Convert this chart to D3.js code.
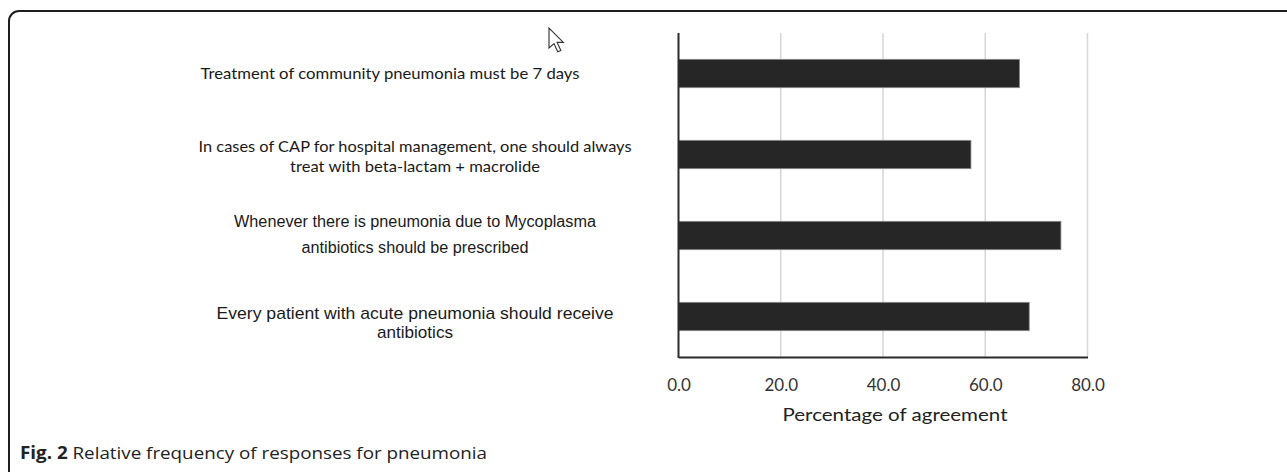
<!DOCTYPE html>
<html>
<head>
  <meta charset="utf-8">
  <script src="https://cdn.jsdelivr.net/npm/d3@7"></script>
  <style>
    body { margin: 0; background: #fff; }
    svg { display: block; }
  </style>
</head>
<body>
  <div id="chart"></div>
  <script>
    // statements (top to bottom) and agreement percentages
    const statements = [
      ["Treatment of community pneumonia must be 7 days"],
      ["In cases of CAP for hospital management, one should always", "treat with beta-lactam + macrolide"],
      ["Whenever there is pneumonia due to Mycoplasma", "antibiotics should be prescribed"],
      ["Every patient with acute pneumonia should receive", "antibiotics"]
    ];
    const agreement = [66.7, 57.2, 74.8, 68.6];
    const xTicks = [0, 20, 40, 60, 80];
    const xTitle = "Percentage of agreement";
    const captionBold = "Fig. 2";
    const captionText = " Relative frequency of responses for pneumonia";

    // label look, one entry per statement (font, line offsets, widths)
    const labelStyle = [
      { font: "Lato", size: 16, cx: 390, dy: [1], w: [379] },
      { font: "Lato", size: 16, cx: 415, dy: [-7, 13], w: [433, 250] },
      { font: "Liberation Sans Narrow", size: 16, cx: 415, dy: [-13, 13], w: [362, 227] },
      { font: "Liberation Sans Narrow", size: 17, cx: 415, dy: [-2, 17], w: [397, 76] }
    ];

    const W = 1287, H = 472;
    const svg = d3.select("#chart").append("svg")
      .attr("width", W).attr("height", H);

    // frame (rounded box running off the right and bottom edges)
    svg.append("rect")
      .attr("x", 9).attr("y", 11)
      .attr("width", 1300).attr("height", 520)
      .attr("rx", 10).attr("ry", 10)
      .attr("fill", "none")
      .attr("stroke", "#1e1e1e")
      .attr("stroke-width", 2);

    const x = d3.scaleLinear().domain([0, 80]).range([678.5, 1087.5]);
    const y = d3.scaleBand()
      .domain(d3.range(statements.length))
      .range([33, 357])
      .paddingInner(0.65)
      .paddingOuter(0.325);

    // gridlines
    svg.append("g")
      .selectAll("line")
      .data(xTicks.slice(1))
      .join("line")
      .attr("x1", d => x(d)).attr("x2", d => x(d))
      .attr("y1", 33).attr("y2", 357)
      .attr("stroke", "#d6d6d6")
      .attr("stroke-width", 1.5);

    // bars
    svg.append("g")
      .selectAll("rect")
      .data(agreement)
      .join("rect")
      .attr("x", x(0))
      .attr("y", (d, i) => y(i))
      .attr("width", d => x(d) - x(0))
      .attr("height", y.bandwidth())
      .attr("fill", "#262626")
      .attr("stroke", "#8a8a8a")
      .attr("stroke-width", 0.8);

    // x axis
    const xAxis = svg.append("g")
      .attr("transform", "translate(0,357)")
      .call(d3.axisBottom(x).tickValues(xTicks).tickSize(0).tickPadding(22)
        .tickFormat(d3.format(".1f")));
    xAxis.select(".domain").attr("stroke", "#2b2b2b").attr("stroke-width", 2);
    xAxis.selectAll("text")
      .attr("font-family", "Lato, 'Open Sans', sans-serif")
      .attr("font-size", 17)
      .attr("fill", "#333");

    // left axis line
    svg.append("line")
      .attr("x1", x(0)).attr("x2", x(0))
      .attr("y1", 33).attr("y2", 358)
      .attr("stroke", "#2b2b2b")
      .attr("stroke-width", 2);

    svg.append("text")
      .attr("x", 895).attr("y", 421)
      .attr("text-anchor", "middle")
      .attr("font-family", "Lato, 'Open Sans', sans-serif")
      .attr("font-size", 18)
      .attr("fill", "#222")
      .attr("textLength", 225)
      .attr("lengthAdjust", "spacingAndGlyphs")
      .text(xTitle);

    // statement labels
    statements.forEach((lines, i) => {
      const s = labelStyle[i];
      const cy = y(i) + y.bandwidth() / 2;
      lines.forEach((line, j) => {
        svg.append("text")
          .attr("x", s.cx)
          .attr("y", cy + s.dy[j])
          .attr("dominant-baseline", "middle")
          .attr("text-anchor", "middle")
          .attr("font-family", s.font + ", sans-serif")
          .attr("font-size", s.size)
          .attr("fill", "#1a1a1a")
          .attr("textLength", s.w[j])
          .attr("lengthAdjust", "spacingAndGlyphs")
          .text(line);
      });
    });

    // mouse pointer left in the screenshot
    svg.append("path")
      .attr("transform", "translate(549,28) scale(1.25)")
      .attr("d", "M0,0 L0,16 L4,12.5 L7,19 L9.5,18 L6.5,11.5 L11.5,11.5 Z")
      .attr("fill", "#fff")
      .attr("stroke", "#333")
      .attr("stroke-width", 0.9);

    // caption
    const cap = svg.append("text")
      .attr("x", 20).attr("y", 459)
      .attr("font-family", "'Open Sans', sans-serif")
      .attr("font-size", 17)
      .attr("fill", "#222")
      .attr("textLength", 467)
      .attr("lengthAdjust", "spacingAndGlyphs");
    cap.append("tspan").attr("font-weight", "bold").text(captionBold);
    cap.append("tspan").text(captionText);
  </script>
</body>
</html>
